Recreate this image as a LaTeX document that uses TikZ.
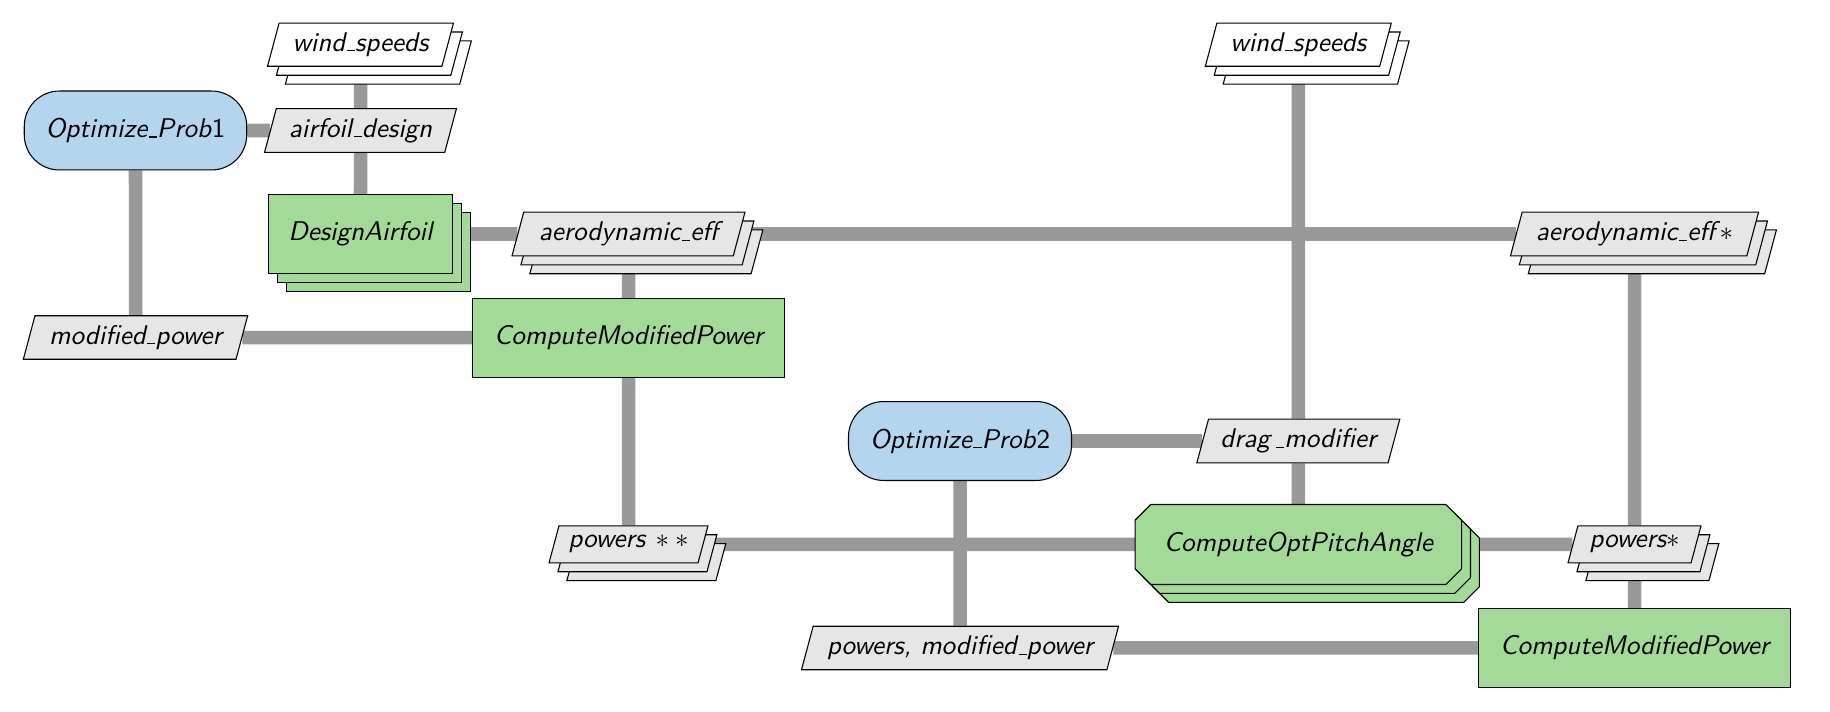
\documentclass[tikz,border=0pt]{standalone}
\usetikzlibrary{shapes.geometric,shapes.misc,shadows}
\definecolor{optblue}{RGB}{179,214,238}
\definecolor{fungreen}{RGB}{163,218,151}
\definecolor{datagray}{RGB}{230,230,230}
\definecolor{linegray}{RGB}{153,153,153}
\newcommand{\usc}{\leavevmode\kern.06em\vbox{\hrule width.3em}}
\pgfdeclarelayer{bg}
\pgfdeclarelayer{mid}
\pgfsetlayers{bg,mid,main}
\tikzset{
  every node/.style={font=\sffamily\itshape, text=black},
  optbox/.style={rectangle, rounded corners=13pt, draw=black, fill=optblue, minimum height=29.2pt, minimum width=82.3pt, inner sep=2pt},
  funbox/.style={rectangle, draw=black, fill=fungreen, minimum height=29.2pt, inner sep=2pt},
  implbox/.style={rectangle, minimum height=29.2pt, inner sep=2pt},
  chamf/.style={draw=black, fill=fungreen},
  databox/.style={trapezium, trapezium left angle=75, trapezium right angle=105, trapezium stretches body, draw=black, fill=datagray, inner xsep=2pt, inner ysep=3.55pt},
  stackbox/.style={double copy shadow={shadow xshift=3.3pt, shadow yshift=-3.3pt}},
  conn/.style={draw=linegray, line width=5pt},
}
\begin{document}
\begin{tikzpicture}[x=0.37pt, y=-0.37pt]
\useasboundingbox (0,0) rectangle (1830,712);
% nodes
\node[databox, stackbox, fill=white, minimum width=68.8pt] (ws1) at (360.5,44.7) {wind\usc speeds};
\node[databox, stackbox, fill=white, minimum width=68.8pt] (ws2) at (1298.3,44.7) {wind\usc speeds};
\node[optbox] (opt1) at (135.5,130.5) {Optimize\usc Prob\textup{1}};
\node[databox, minimum width=71pt] (ad) at (360.5,130.5) {airfoil\usc design};
\node[funbox, stackbox, minimum width=68.1pt] (da) at (360.5,234) {DesignAirfoil};
\node[databox, stackbox, minimum width=86.2pt] (ae1) at (628.5,234) {aerodynamic\usc ef{}f};
\node[databox, stackbox, minimum width=91.8pt] (ae2) at (1634.5,234) {aerodynamic\usc ef{}f$\,\ast$};
\node[databox, minimum width=83pt] (mp) at (135.5,337.5) {modified\usc power};
\node[funbox, minimum width=115.4pt] (cmp1) at (628.5,337.8) {ComputeModifiedPower};
\node[optbox, minimum width=82.5pt] (opt2) at (960,441) {Optimize\usc Prob\textup{2}};
\node[databox, minimum width=75.1pt] (dm) at (1298.3,441) {drag\,\usc modifier};
\node[databox, stackbox, minimum width=58.8pt] (pss) at (628.5,544.3) {powers\,${}\ast{}\ast$};
\node[implbox, minimum width=120.4pt] (copa) at (1298.3,544.5) {ComputeOptPitchAngle};
\node[databox, stackbox, minimum width=49.2pt] (ps) at (1634.5,544.3) {powers$\ast$};
\node[databox, minimum width=117.3pt] (pmp) at (960,648) {powers, modified\usc power};
\node[funbox, minimum width=115.4pt] (cmp2) at (1634.7,647.8) {ComputeModifiedPower};
% chamfered stack behind ComputeOptPitchAngle
\begin{pgfonlayer}{mid}
\foreach \k in {2,1,0}{
  \pgfmathsetmacro{\dd}{3.3*\k}
  \draw[chamf]
    ([xshift=5.8pt+\dd pt, yshift=-\dd pt]copa.north west) --
    ([xshift=-5.8pt+\dd pt, yshift=-\dd pt]copa.north east) --
    ([xshift=\dd pt, yshift=-5.8pt-\dd pt]copa.north east) --
    ([xshift=\dd pt, yshift=5.8pt-\dd pt]copa.south east) --
    ([xshift=-5.8pt+\dd pt, yshift=-\dd pt]copa.south east) --
    ([xshift=5.8pt+\dd pt, yshift=-\dd pt]copa.south west) --
    ([xshift=\dd pt, yshift=5.8pt-\dd pt]copa.south west) --
    ([xshift=\dd pt, yshift=-5.8pt-\dd pt]copa.north west) -- cycle;
}
\end{pgfonlayer}
% connectors
\begin{pgfonlayer}{bg}
\draw[conn] (ws1) -- (ad);
\draw[conn] (opt1) -- (ad);
\draw[conn] (ad) -- (da);
\draw[conn] (opt1) -- (mp);
\draw[conn] (da) -- (ae1);
\draw[conn] (ae1) -- (ae2);
\draw[conn] (ae1) -- (cmp1);
\draw[conn] (mp) -- (cmp1);
\draw[conn] (cmp1) -- (pss);
\draw[conn] (pss) -- (copa);
\draw[conn] (ws2) -- (dm);
\draw[conn] (opt2) -- (dm);
\draw[conn] (dm) -- (copa);
\draw[conn] (opt2) -- (pmp);
\draw[conn] (copa) -- (ps);
\draw[conn] (ae2) -- (ps);
\draw[conn] (ps) -- (cmp2);
\draw[conn] (pmp) -- (cmp2);
\end{pgfonlayer}
\end{tikzpicture}
\end{document}
